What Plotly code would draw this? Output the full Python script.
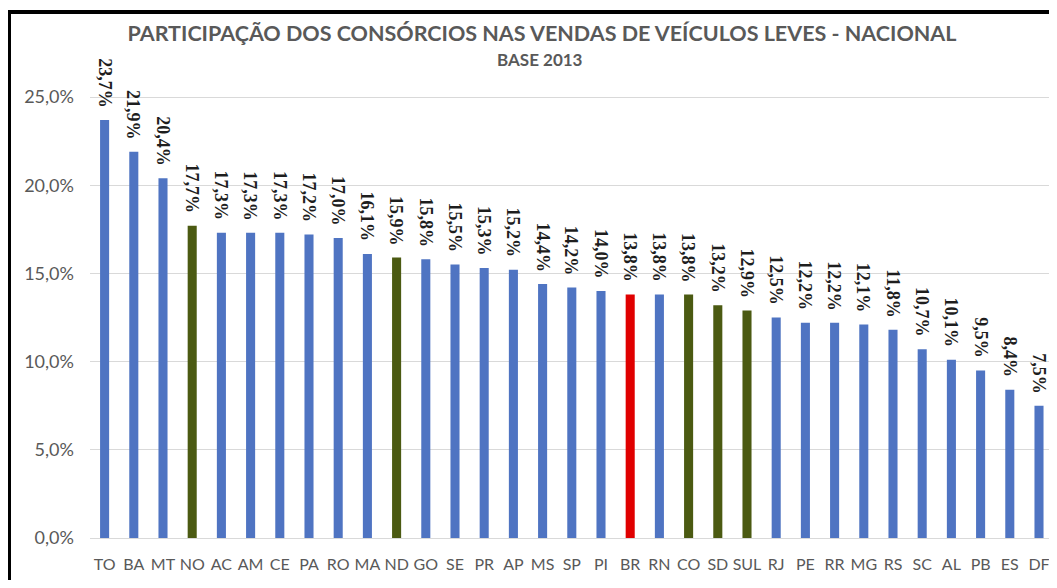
import plotly.graph_objects as go

categories = ["TO", "BA", "MT", "NO", "AC", "AM", "CE", "PA", "RO", "MA", "ND",
              "GO", "SE", "PR", "AP", "MS", "SP", "PI", "BR", "RN", "CO", "SD",
              "SUL", "RJ", "PE", "RR", "MG", "RS", "SC", "AL", "PB", "ES", "DF"]
values = [23.7, 21.9, 20.4, 17.7, 17.3, 17.3, 17.3, 17.2, 17.0, 16.1, 15.9,
          15.8, 15.5, 15.3, 15.2, 14.4, 14.2, 14.0, 13.8, 13.8, 13.8, 13.2,
          12.9, 12.5, 12.2, 12.2, 12.1, 11.8, 10.7, 10.1, 9.5, 8.4, 7.5]
# group: "uf" = state, "reg" = region, "br" = national
groups = ["uf", "uf", "uf", "reg", "uf", "uf", "uf", "uf", "uf", "uf", "reg",
          "uf", "uf", "uf", "uf", "uf", "uf", "uf", "br", "uf", "reg", "reg",
          "reg", "uf", "uf", "uf", "uf", "uf", "uf", "uf", "uf", "uf", "uf"]
y_ticks = [0, 5, 10, 15, 20, 25]
y_tick_labels = ["0,0%", "5,0%", "10,0%", "15,0%", "20,0%", "25,0%"]

title_text = "PARTICIPAÇÃO DOS CONSÓRCIOS NAS VENDAS DE VEÍCULOS LEVES - NACIONAL"
subtitle_text = "BASE 2013"

color_map = {"uf": "#4F74C2", "reg": "#4B5A12", "br": "#E00000"}
colors = [color_map[g] for g in groups]

# page body has an 8px margin; work in screen pixels and convert
OFF = 8
SW, SH = 1057, 588
W, H = SW - 2 * OFF, SH - 2 * OFF
PLOT_LEFT, PLOT_TOP, PLOT_BOTTOM = 90, 20, 538
L, R = PLOT_LEFT - OFF, 0
T, B = PLOT_TOP - OFF, (OFF + H) - PLOT_BOTTOM
PW, PH = W - L - R, H - T - B

CAT_STEP = 29.2  # pixels between category centres
x_range = [-0.5, -0.5 + PW / CAT_STEP]


def px_x(px):
    return (px - PLOT_LEFT) / PW


def px_y(py):
    return (PLOT_BOTTOM - py) / PH


px_per_pct = (538 - 97) / 25.0

fig = go.Figure()
fig.add_trace(go.Bar(
    x=categories, y=values, marker=dict(color=colors, line=dict(width=0)),
    width=0.31, hoverinfo="x+y",
))

annotations = []
for c, v in zip(categories, values):
    annotations.append(dict(
        x=c, y=v, xref="x", yref="y", text=f"{v:.1f}%".replace(".", ","),
        showarrow=False, textangle=90, xanchor="center", yanchor="bottom",
        yshift=11, borderpad=0,
        font=dict(family="Liberation Serif", size=18, color="#1E1E1E", weight="bold"),
    ))

annotations.append(dict(
    x=px_x(540), y=px_y(60), xref="paper", yref="paper", text=subtitle_text,
    showarrow=False, xanchor="center", yanchor="middle",
    font=dict(family="Lato", size=17, color="#595959", weight="bold"),
))

shapes = [
    dict(type="line", xref="paper", yref="paper", x0=px_x(7), x1=px_x(SW + 20),
         y0=px_y(12), y1=px_y(12), line=dict(color="black", width=4), layer="above"),
    dict(type="line", xref="paper", yref="paper", x0=px_x(9), x1=px_x(9),
         y0=px_y(10), y1=px_y(SH + 20), line=dict(color="black", width=4), layer="above"),
]

fig.update_layout(
    width=W, height=H,
    margin=dict(l=L, r=R, t=T, b=B, pad=0),
    paper_bgcolor="white", plot_bgcolor="white",
    showlegend=False,
    title=dict(text=title_text, x=(542 - OFF) / W, y=1 - (33 - OFF) / H,
               xref="container", yref="container",
               xanchor="center", yanchor="middle",
               font=dict(family="Lato", size=21.5, color="#595959", weight="bold")),
    annotations=annotations,
    shapes=shapes,
)
fig.update_xaxes(
    range=x_range, showgrid=False, showline=True, linecolor="#D9D9D9", linewidth=1,
    ticks="", tickfont=dict(family="Lato", size=16, color="#595959"),
    ticklabelstandoff=12, fixedrange=True,
)
fig.update_yaxes(
    range=[0, PH / px_per_pct], tickvals=y_ticks, ticktext=y_tick_labels,
    showgrid=True, gridcolor="#D9D9D9", gridwidth=1, zeroline=False, showline=False,
    ticks="", tickfont=dict(family="Lato", size=18, color="#595959"),
    ticklabelstandoff=15, fixedrange=True,
)

fig.write_html("out.html", config={"displayModeBar": False})
